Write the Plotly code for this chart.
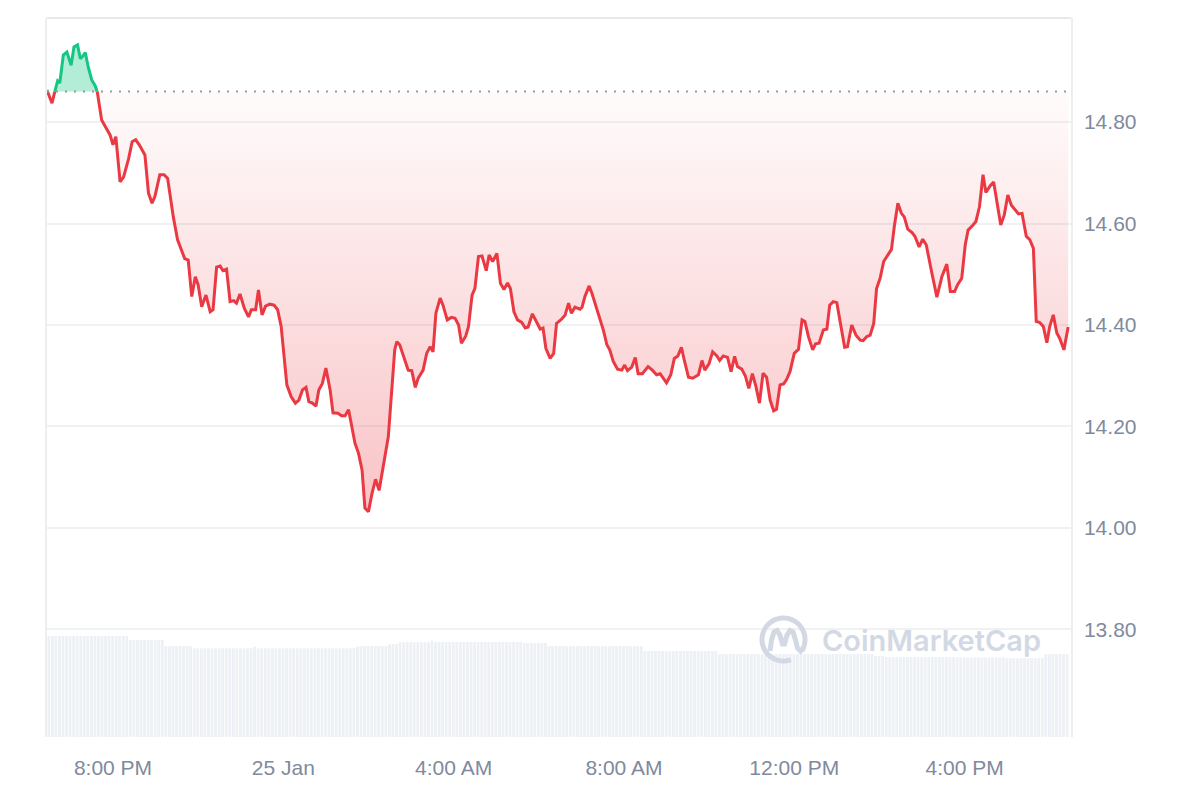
import numpy as np
import pandas as pd
import plotly.graph_objects as go

# ---------------- data ----------------
start_time = pd.Timestamp("2025-01-24 18:27")
base_price = 14.86

minutes = [0, 7, 11, 15, 18, 23, 28, 34, 38, 43, 47, 50, 54, 58, 63, 68, 71, 77, 82, 89,
           93, 97, 103, 108, 115, 120, 125, 130, 138, 143, 148, 152, 159, 165, 170, 178, 184, 190, 194, 199,
           204, 209, 213, 218, 224, 230, 234, 239, 244, 248, 253, 258, 263, 267, 272, 278, 284, 288, 294, 298,
           303, 308, 314, 320, 325, 330, 338, 344, 350, 355, 360, 365, 369, 374, 379, 383, 388, 393, 399, 403,
           410, 415, 420, 425, 429, 434, 439, 444, 448, 453, 458, 463, 468, 474, 481, 490, 493, 497, 509, 514,
           519, 523, 530, 535, 540, 544, 548, 554, 558, 564, 570, 575, 580, 584, 590, 594, 599, 603, 608, 613,
           619, 623, 628, 634, 639, 644, 649, 653, 658, 663, 669, 674, 678, 684, 690, 695, 699, 703, 709, 714,
           718, 724, 730, 735, 739, 744, 751, 754, 758, 764, 768, 775, 779, 784, 789, 793, 798, 804, 810, 814,
           818, 824, 829, 833, 839, 847, 853, 859, 864, 868, 873, 879, 884, 889, 894, 898, 904, 910, 918, 923,
           927, 933, 938, 944, 948, 953, 959, 964, 969, 973, 979, 984, 989, 994, 999, 1004, 1009, 1014, 1019, 1024,
           1028, 1033, 1038, 1042, 1047, 1053, 1059, 1064, 1068, 1073, 1079, 1083, 1088, 1094, 1099, 1103, 1108, 1113, 1119, 1124,
           1128, 1134, 1140, 1146, 1150, 1155, 1160, 1165, 1169, 1174, 1179, 1185, 1190, 1194, 1199, 1204, 1208, 1213, 1219, 1223,
           1229, 1234, 1239, 1247, 1254, 1261, 1268, 1273, 1279, 1283, 1289, 1294, 1298, 1305, 1309, 1314, 1319, 1323, 1329, 1334,
           1339, 1344, 1349, 1354, 1359, 1364, 1369, 1374, 1380, 1385, 1390, 1394, 1399, 1404, 1409, 1413, 1418, 1423, 1427, 1433,
           1439]

prices = [14.863, 14.837, 14.860, 14.881, 14.877, 14.932, 14.938, 14.912, 14.948, 14.952, 14.925, 14.929, 14.937, 14.909, 14.883, 14.871, 14.858, 14.804, 14.791, 14.774,
          14.755, 14.771, 14.682, 14.692, 14.728, 14.761, 14.765, 14.755, 14.735, 14.660, 14.640, 14.653, 14.696, 14.696, 14.689, 14.613, 14.568, 14.544, 14.531, 14.528,
          14.456, 14.495, 14.479, 14.436, 14.459, 14.426, 14.430, 14.514, 14.516, 14.507, 14.510, 14.446, 14.448, 14.443, 14.461, 14.433, 14.416, 14.430, 14.430, 14.469,
          14.420, 14.437, 14.441, 14.439, 14.430, 14.397, 14.282, 14.259, 14.246, 14.252, 14.272, 14.277, 14.249, 14.246, 14.240, 14.272, 14.285, 14.315, 14.272, 14.227,
          14.226, 14.221, 14.221, 14.233, 14.206, 14.167, 14.147, 14.114, 14.039, 14.032, 14.068, 14.096, 14.074, 14.121, 14.180, 14.351, 14.367, 14.361, 14.311, 14.310,
          14.277, 14.295, 14.311, 14.344, 14.357, 14.347, 14.423, 14.453, 14.439, 14.410, 14.415, 14.413, 14.400, 14.364, 14.378, 14.397, 14.459, 14.472, 14.535, 14.536,
          14.507, 14.538, 14.525, 14.541, 14.482, 14.470, 14.483, 14.472, 14.426, 14.410, 14.405, 14.394, 14.396, 14.422, 14.405, 14.392, 14.394, 14.354, 14.334, 14.344,
          14.403, 14.410, 14.419, 14.443, 14.423, 14.435, 14.431, 14.435, 14.456, 14.477, 14.462, 14.430, 14.416, 14.390, 14.361, 14.351, 14.328, 14.313, 14.311, 14.321,
          14.310, 14.317, 14.336, 14.304, 14.304, 14.318, 14.311, 14.302, 14.304, 14.295, 14.286, 14.302, 14.334, 14.339, 14.356, 14.331, 14.297, 14.295, 14.302, 14.330,
          14.311, 14.324, 14.347, 14.339, 14.330, 14.339, 14.336, 14.308, 14.338, 14.318, 14.313, 14.300, 14.275, 14.304, 14.279, 14.246, 14.305, 14.297, 14.252, 14.231,
          14.234, 14.282, 14.284, 14.292, 14.308, 14.344, 14.352, 14.410, 14.407, 14.377, 14.351, 14.363, 14.364, 14.390, 14.392, 14.439, 14.446, 14.444, 14.397, 14.356,
          14.357, 14.400, 14.380, 14.370, 14.369, 14.377, 14.380, 14.403, 14.472, 14.492, 14.525, 14.538, 14.549, 14.594, 14.640, 14.620, 14.613, 14.589, 14.582, 14.575,
          14.554, 14.569, 14.558, 14.502, 14.455, 14.495, 14.520, 14.466, 14.466, 14.479, 14.492, 14.558, 14.587, 14.597, 14.604, 14.633, 14.696, 14.661, 14.674, 14.682,
          14.640, 14.597, 14.617, 14.656, 14.636, 14.628, 14.619, 14.620, 14.575, 14.568, 14.551, 14.407, 14.405, 14.397, 14.365, 14.397, 14.420, 14.384, 14.374, 14.351,
          14.396]

# volume (millions), read as runs of equal-height 5-minute bars: (bar count, value)
volume_runs = [(23, 500), (10, 480), (8, 450), (17, 439), (1, 447), (28, 439), (1, 447), (8, 450),
               (3, 460), (9, 469), (1, 477), (25, 470), (7, 465), (27, 450), (21, 426), (44, 411),
               (3, 401), (20, 396), (14, 394), (11, 390), (7, 411)]

tick_times = ["2025-01-24 20:00", "2025-01-25 00:00", "2025-01-25 04:00",
              "2025-01-25 08:00", "2025-01-25 12:00", "2025-01-25 16:00"]
tick_text = ["8:00 PM", "25 Jan", "4:00 AM", "8:00 AM", "12:00 PM", "4:00 PM"]
y_ticks = [13.80, 14.00, 14.20, 14.40, 14.60, 14.80]

# ---------------- styling ----------------
RED = "#ea3943"
GREEN = "#16c784"
LABEL = "#808a9d"
FONT = "Liberation Sans, Arial, sans-serif"
W, H = 1200, 800
# page body has an 8px offset, so margins are shifted accordingly
ML, MT = 39, 10
PW, PH = 1024, 719
MR = W - ML - PW
MB = H - MT - PH

# split the line where it crosses the base price
m = np.array(minutes, float)
p = np.array(prices, float)
xs, ys = [m[0]], [p[0]]
for i in range(1, len(p)):
    a, b = p[i - 1] - base_price, p[i] - base_price
    if a * b < 0:
        t = a / (a - b)
        xs.append(m[i - 1] + t * (m[i] - m[i - 1]))
        ys.append(base_price)
    xs.append(m[i])
    ys.append(p[i])
xs = np.array(xs)
ys = np.array(ys)
times = start_time + pd.to_timedelta(xs, unit="m")

red_line = [y if y <= base_price + 1e-9 else None for y in ys]
green_line = [y if y >= base_price - 1e-9 else None for y in ys]
red_fill = np.minimum(ys, base_price)
green_fill = np.maximum(ys, base_price)
base_arr = np.full(len(ys), base_price)

vol_vals = np.concatenate([np.full(c, v, float) for c, v in volume_runs])
vol_times = start_time + pd.to_timedelta(np.arange(len(vol_vals)) * 5 + 2.5, unit="m")

fig = go.Figure()

fig.add_trace(go.Bar(x=vol_times, y=vol_vals, marker=dict(color="#edf0f4", line=dict(width=0)),
                     yaxis="y2", hoverinfo="skip", showlegend=False))

fig.add_trace(go.Scatter(x=times, y=base_arr, mode="lines", line=dict(width=0),
                         hoverinfo="skip", showlegend=False))
fig.add_trace(go.Scatter(x=times, y=red_fill, mode="lines", line=dict(width=0), fill="tonexty",
                         fillcolor="rgba(234,57,67,0.12)",
                         fillgradient=dict(type="vertical",
                                           colorscale=[[0, "rgba(234,57,67,0.30)"], [1, "rgba(234,57,67,0.02)"]],
                                           start=min(prices), stop=base_price),
                         hoverinfo="skip", showlegend=False))
fig.add_trace(go.Scatter(x=times, y=base_arr, mode="lines", line=dict(width=0),
                         hoverinfo="skip", showlegend=False))
fig.add_trace(go.Scatter(x=times, y=green_fill, mode="lines", line=dict(width=0), fill="tonexty",
                         fillcolor="rgba(22,199,132,0.32)", hoverinfo="skip", showlegend=False))

fig.add_trace(go.Scatter(x=times, y=red_line, mode="lines", line=dict(color=RED, width=3),
                         connectgaps=False, showlegend=False))
fig.add_trace(go.Scatter(x=times, y=green_line, mode="lines", line=dict(color=GREEN, width=3),
                         connectgaps=False, showlegend=False))

x_start = start_time
x_end = start_time + pd.Timedelta(minutes=1443)

# dotted base line
fig.add_shape(type="line", xref="paper", x0=0, x1=1, yref="y", y0=base_price, y1=base_price,
              line=dict(color="#9a9a9a", width=2, dash="2px,7px"), layer="above")
# top border
fig.add_shape(type="line", xref="paper", x0=0, x1=1, yref="paper", y0=1, y1=1,
              line=dict(color="#e6e8eb", width=2))

# reference plot box (screen pixels) used for placing the watermark
RL, RR, RT, RB = 47, 1071, 18, 737


def px2paper(px, py):
    return (px - RL) / (RR - RL), (RB - py) / (RB - RT)


# watermark logo (ring + wave)
cx, cy, r = 783.5, 639.5, 21.5
ang = np.radians(np.linspace(-30, 290, 60))
ring = [px2paper(cx + r * np.cos(a), cy - r * np.sin(a)) for a in ang]
ring_path = "M " + " L ".join(f"{x:.5f},{y:.5f}" for x, y in ring)
wave_px = [(770, 651), (771.5, 640), (774, 632), (777, 630.5), (780, 635), (782.5, 644), (784.5, 644),
           (787, 635), (790, 630.5), (793, 632), (795.5, 640), (797.5, 648), (800.5, 651), (804, 648)]
wave = [px2paper(a, b) for a, b in wave_px]
wave_path = "M " + " L ".join(f"{x:.5f},{y:.5f}" for x, y in wave)
for path in (ring_path, wave_path):
    fig.add_shape(type="path", path=path, xref="paper", yref="paper",
                  line=dict(color="#d3d9e4", width=5), layer="above")

fig.add_annotation(text="CoinMarketCap", xref="paper", yref="paper",
                   x=px2paper(931.5, 0)[0], y=px2paper(0, 640)[1],
                   xanchor="center", yanchor="middle", showarrow=False,
                   font=dict(family="Inter, Noto Sans, sans-serif", size=29, color="#d3d9e4", weight=600))

fig.update_layout(
    width=W, height=H,
    margin=dict(l=ML, r=MR, t=MT, b=MB, autoexpand=False),
    paper_bgcolor="white", plot_bgcolor="white",
    showlegend=False, hovermode=False, bargap=0.22,
    xaxis=dict(type="date", range=[x_start, x_end], showgrid=False, zeroline=False,
               tickvals=pd.to_datetime(tick_times), ticktext=tick_text, ticks="",
               tickfont=dict(family=FONT, size=21, color=LABEL), ticklabelstandoff=16,
               showline=False),
    yaxis=dict(range=[13.588, 15.005], side="right", tickvals=y_ticks,
               ticktext=[f"{v:.2f}" for v in y_ticks], ticks="",
               tickfont=dict(family=FONT, size=21, color=LABEL), ticklabelstandoff=7,
               showgrid=True, gridcolor="#eff1f3", gridwidth=1.5, zeroline=False,
               showline=True, mirror=True, linecolor="#eceef1", linewidth=1.5),
    yaxis2=dict(overlaying="y", range=[0, 3559], visible=False, showgrid=False),
)

fig.write_html("out.html")
